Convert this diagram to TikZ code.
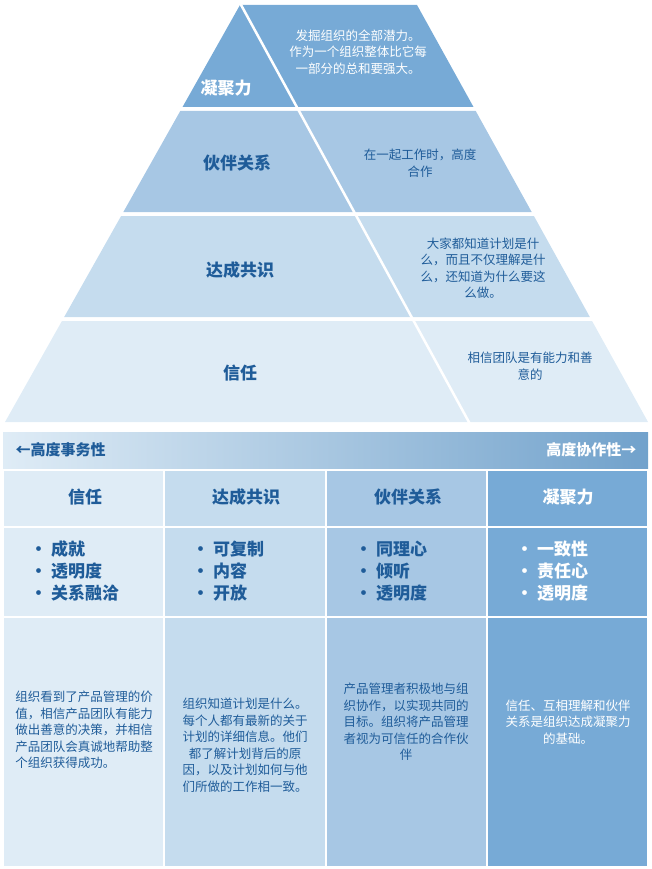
\documentclass[tikz,border=0pt]{standalone}
\usepackage{fontspec}
\setmainfont{Noto Sans CJK SC}
\definecolor{bleuA}{HTML}{DFECF6}
\definecolor{bleuB}{HTML}{C5DCEE}
\definecolor{bleuC}{HTML}{A7C7E4}
\definecolor{bleuD}{HTML}{77AAD6}
\definecolor{encre}{HTML}{1F5C99}
\tikzset{titre/.style={font=\fontsize{17}{20}\selectfont\bfseries,text=#1},
titre/.default={encre},
texte/.style={font=\fontsize{12.5}{16.5}\selectfont,text=#1,align=center,inner sep=0pt},
texte/.default={encre},
liste/.style={font=\fontsize{17}{22}\selectfont\bfseries,text=#1,align=left,anchor=west,inner sep=0pt},
liste/.default={encre}}
\begin{document}
\begin{tikzpicture}[x=1pt,y=-1pt]
\useasboundingbox (0,0) rectangle (651,869);
% pyramide
\foreach \t/\b/\c in {5/107/bleuD,111/212/bleuC,216/317/bleuB,321/422/bleuA}
	\fill[\c] ({240-(\t-5)*0.5635},\t) -- ({417+(\t-5)*0.554},\t)
		-- ({417+(\b-5)*0.554},\b) -- ({240-(\b-5)*0.5635},\b) -- cycle;
\draw[white,line width=2.5pt] (240,3) -- (470,424);
\node [titre=white] (coh) at (226,88) {凝聚力};
\node [titre] (par) at (237,163) {伙伴关系};
\node [titre] (con) at (240,270) {达成共识};
\node [titre] (conf) at (240,373) {信任};
\node [texte=white] (dcoh) at (358,52) {发掘组织的全部潜力。\\作为一个组织整体比它每\\一部分的总和要强大。};
\node [texte] (dpar) at (420,163) {在一起工作时，高度\\合作};
\node [texte] (dcon) at (483,268) {大家都知道计划是什\\么，而且不仅理解是什\\么，还知道为什么要这\\么做。};
\node [texte] (dconf) at (530,366) {相信团队是有能力和善\\意的};
% tableau
\shade[left color=bleuA,right color=bleuD!95!black] (3,432) rectangle (648,468);
\node [titre,font=\fontsize{15}{18}\selectfont\bfseries,anchor=west] (gauche) at (12,450) {←高度事务性};
\node [titre=white,font=\fontsize{15}{18}\selectfont\bfseries,anchor=east] (droite) at (640,450) {高度协作性→};
\foreach \i/\c in {0/bleuA,1/bleuB,2/bleuC,3/bleuD}{
	\fill[\c] ({3+\i*161.25+1},471) rectangle ({3+(\i+1)*161.25-1},526);
	\fill[\c] ({3+\i*161.25+1},528) rectangle ({3+(\i+1)*161.25-1},616);
	\fill[\c] ({3+\i*161.25+1},618) rectangle ({3+(\i+1)*161.25-1},866);
}
\node [titre] (tconf) at (85,497) {信任};
\node [titre] (tcons) at (246,497) {达成共识};
\node [titre] (tpart) at (408,497) {伙伴关系};
\node [titre=white] (tcoh) at (568,497) {凝聚力};
\node [liste] (lconf) at (30,571) {•\ 成就\\•\ 透明度\\•\ 关系融洽};
\node [liste] (lcons) at (192,571) {•\ 可复制\\•\ 内容\\•\ 开放};
\node [liste] (lpart) at (355,571) {•\ 同理心\\•\ 倾听\\•\ 透明度};
\node [liste=white] (lcoh) at (516,571) {•\ 一致性\\•\ 责任心\\•\ 透明度};
\node [texte,align=left] (pconf) at (84,730) {组织看到了产品管理的价\\值，相信产品团队有能力\\做出善意的决策，并相信\\产品团队会真诚地帮助整\\个组织获得成功。};
\node [texte] (pcons) at (245,745) {组织知道计划是什么。\\每个人都有最新的关于\\计划的详细信息。他们\\都了解计划背后的原\\因，以及计划如何与他\\们所做的工作相一致。};
\node [texte] (ppart) at (406,722) {产品管理者积极地与组\\织协作，以实现共同的\\目标。组织将产品管理\\者视为可信任的合作伙\\伴};
\node [texte=white] (pcoh) at (568,722) {信任、互相理解和伙伴\\关系是组织达成凝聚力\\的基础。};
\end{tikzpicture}
\end{document}
